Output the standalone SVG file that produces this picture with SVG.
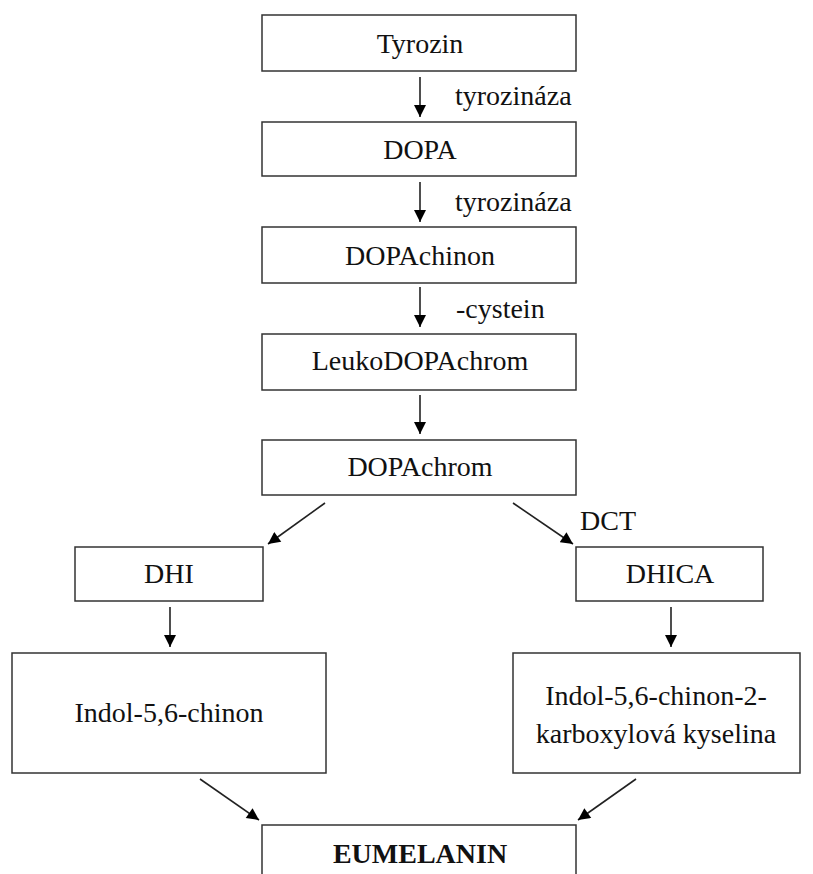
<svg xmlns="http://www.w3.org/2000/svg" width="813" height="874" viewBox="0 0 813 874">
<defs>
<marker id="ah" viewBox="0 0 10 10" refX="10" refY="5" markerWidth="13" markerHeight="12" markerUnits="userSpaceOnUse" orient="auto">
<path d="M0,0 L10,5 L0,10 z" fill="#000"/>
</marker>
<style>
.box{fill:#fff;stroke:#333;stroke-width:1.5}
.c{stroke:#222;stroke-width:1.6;fill:none;marker-end:url(#ah)}
</style>
</defs>
<rect width="813" height="874" fill="#fff"/>
<g id="tyrozin"><rect class="box" x="262" y="15" width="314" height="56"/><text x="420" y="53" font-family="Liberation Serif" font-size="28" text-anchor="middle" fill="#111">Tyrozin</text></g>
<g id="dopa"><rect class="box" x="262" y="122" width="314" height="54"/><text x="420" y="159" font-family="Liberation Serif" font-size="28" text-anchor="middle" fill="#111">DOPA</text></g>
<g id="dopachinon"><rect class="box" x="262" y="227" width="314" height="56"/><text x="420" y="265" font-family="Liberation Serif" font-size="28" text-anchor="middle" fill="#111">DOPAchinon</text></g>
<g id="leukodopachrom"><rect class="box" x="262" y="334" width="314" height="56"/><text x="420" y="370" font-family="Liberation Serif" font-size="28" text-anchor="middle" fill="#111">LeukoDOPAchrom</text></g>
<g id="dopachrom"><rect class="box" x="262" y="440" width="314" height="55"/><text x="420" y="476" font-family="Liberation Serif" font-size="28" text-anchor="middle" fill="#111">DOPAchrom</text></g>
<g id="dhi"><rect class="box" x="75" y="547" width="188" height="54"/><text x="169" y="583" font-family="Liberation Serif" font-size="28" text-anchor="middle" fill="#111">DHI</text></g>
<g id="dhica"><rect class="box" x="576" y="547" width="187" height="54"/><text x="670" y="583" font-family="Liberation Serif" font-size="28" text-anchor="middle" fill="#111">DHICA</text></g>
<g id="indol"><rect class="box" x="12" y="653" width="314" height="120"/><text x="169" y="722" font-family="Liberation Serif" font-size="28" text-anchor="middle" fill="#111">Indol-5,6-chinon</text></g>
<g id="indolkarb"><rect class="box" x="513" y="653" width="287" height="120"/><text x="656" y="705" font-family="Liberation Serif" font-size="28" text-anchor="middle" fill="#111">Indol-5,6-chinon-2-</text><text x="656" y="743" font-family="Liberation Serif" font-size="28" text-anchor="middle" fill="#111">karboxylová kyselina</text></g>
<g id="eumelanin"><rect class="box" x="262" y="825" width="314" height="60"/><text x="420" y="863" font-family="Liberation Serif" font-size="28" text-anchor="middle" font-weight="bold" fill="#111">EUMELANIN</text></g>
<g id="connectors">
<line class="c" x1="420" y1="77" x2="420" y2="117"/>
<line class="c" x1="420" y1="182" x2="420" y2="222"/>
<line class="c" x1="420" y1="287" x2="420" y2="327"/>
<line class="c" x1="420" y1="395" x2="420" y2="434"/>
<line class="c" x1="325" y1="503" x2="268" y2="544"/>
<line class="c" x1="513" y1="503" x2="573" y2="544"/>
<line class="c" x1="170" y1="607" x2="170" y2="647"/>
<line class="c" x1="671" y1="607" x2="671" y2="647"/>
<line class="c" x1="200" y1="779" x2="259" y2="820"/>
<line class="c" x1="636" y1="779" x2="578" y2="820"/>
<text x="455" y="105" font-family="Liberation Serif" font-size="28" fill="#111">tyrozináza</text>
<text x="455" y="211" font-family="Liberation Serif" font-size="28" fill="#111">tyrozináza</text>
<text x="456" y="318" font-family="Liberation Serif" font-size="28" fill="#111">-cystein</text>
<text x="580" y="530" font-family="Liberation Serif" font-size="28" fill="#111">DCT</text>
</g>
</svg>
